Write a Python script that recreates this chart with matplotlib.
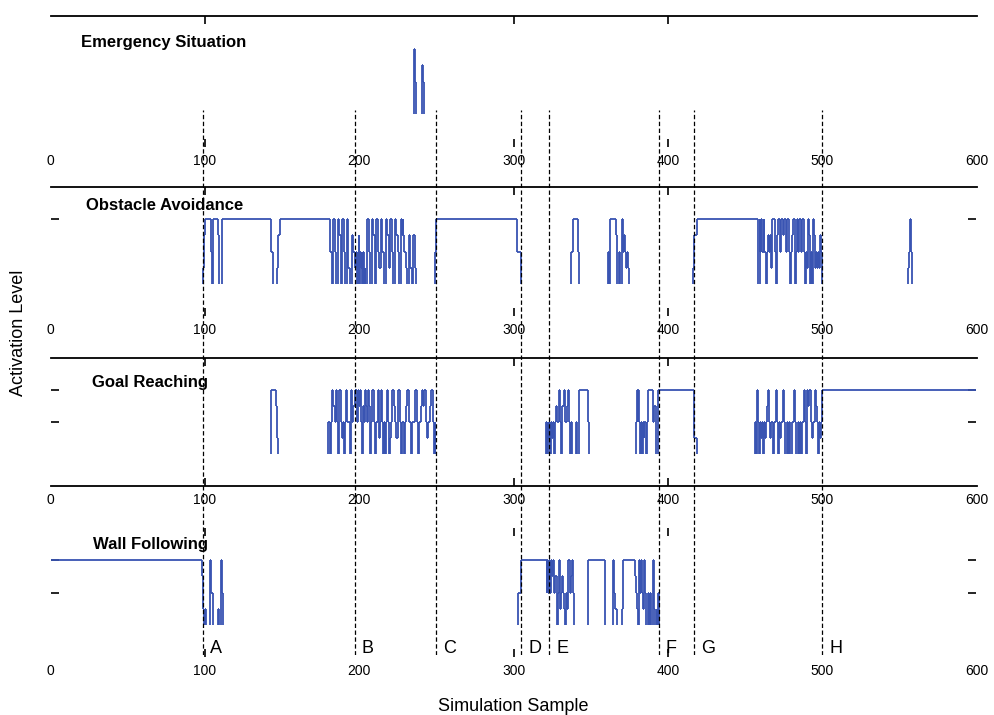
import numpy as np
import matplotlib
matplotlib.use("Agg")
import matplotlib.pyplot as plt
from matplotlib.transforms import blended_transform_factory

plt.rcParams['font.family'] = ['Liberation Sans', 'DejaVu Sans']

# ---------------- data ----------------
x_ticks = [0, 100, 200, 300, 400, 500, 600]
x_tick_labels = ["0", "100", "200", "300", "400", "500", "600"]
marked_ticks = [100, 300, 400]
event_x = [98.5, 197, 250, 305, 323, 394, 417, 500]
event_labels = ["A", "B", "C", "D", "E", "F", "G", "H"]
panel_titles = ["Emergency Situation", "Obstacle Avoidance", "Goal Reaching", "Wall Following"]
x_label = "Simulation Sample"
y_label = "Activation Level"

# (sample, activation level from that sample on)
emergency_steps = [(0, 0), (235.5, 1), (236.2, 0.5), (237.0, 0), (240.4, 0.25), (240.8, 0.75),
                   (241.3, 0.5), (241.9, 0)]

obstacle_steps = [
    (0, 0), (98.5, 0.25), (99.2, 0.75), (100, 1), (104, 0.5), (104.8, 0), (105.5, 1), (108.2, 0.75),
    (108.8, 0.5), (109.3, 0), (110.8, 1),
    (142.8, 0.5), (143.9, 0), (146.5, 0.25), (147.2, 0.75), (148.6, 1),
    (181, 0.5), (182, 0), (183, 1), (184, 0.5), (185, 0), (186, 1), (187, 0.75), (188, 0), (189, 1),
    (190, 0.5), (191, 0), (192, 1), (193, 0.25), (194, 0), (195, 0.75), (196, 0.5), (197, 0.25),
    (198, 0.5), (198.5, 0), (199, 0.5), (199.5, 0.75), (200, 0), (200.5, 0.5), (201, 0.25),
    (201.5, 0.5), (202, 0), (202.5, 0.5), (203, 0), (203.5, 0.25), (204, 0),
    (205, 1), (206, 0.5), (207, 0), (208, 1), (209, 0.75), (210, 0), (211, 1), (212, 0.5), (213, 0.25),
    (214, 1), (215, 0.5), (216, 0), (217, 1), (218, 0.75), (219, 0.25), (220, 1), (221, 0.5), (222, 0),
    (223, 1), (224, 0.75), (225, 0.5), (226, 0), (227, 1), (227.5, 0.75), (228, 1), (228.5, 0.75),
    (229, 0.5), (230, 0.25), (231, 0), (232, 0.75), (233, 0.25), (234, 0), (235, 0.75), (236, 0.25),
    (237, 0),
    (249, 0.5), (249.5, 1), (302, 0.5), (304.5, 0),
    (337.5, 0.5), (338.5, 1), (341.9, 0.5), (342.5, 0),
    (361.2, 0.5), (361.8, 0), (362.5, 1), (366.5, 0.75), (367.2, 0), (368.4, 0.5), (369, 0), (370, 1),
    (371, 0.5), (371.7, 0.75), (372.2, 0.5), (372.8, 0.25), (373.5, 0.5), (374.1, 0.25), (374.6, 0),
    (416.5, 0.25), (417.2, 0.75), (418.6, 1),
    (458.6, 0), (459.4, 1), (460, 0.5), (460.6, 1), (461.3, 0.5), (462, 1), (462.6, 0.5), (463.7, 0),
    (464.4, 0.5), (465, 0.75), (465.6, 0.5), (466.2, 0.75), (466.8, 0.25), (467.3, 1), (469.4, 0.5),
    (470, 0), (470.8, 0.75), (471.5, 1), (472.5, 0.5), (473.2, 1), (474.8, 0.75), (475.4, 1),
    (476.3, 0.5), (476.9, 1), (478.2, 0.5), (479.1, 0), (480, 0.5), (480.6, 0.75), (481.2, 1),
    (482.3, 0), (483, 0.5), (483.6, 1), (484.5, 0.5), (485.1, 1), (486, 0.5), (486.6, 0.75), (487.2, 1),
    (488.2, 0.5), (488.8, 0), (489.6, 0.5), (490.3, 0.25), (490.9, 1), (491.5, 0.75), (492, 0),
    (492.8, 0.5), (493.5, 0), (494.2, 1), (494.8, 0.75), (495.5, 0.25), (496.3, 0.5), (496.9, 0.25),
    (497.5, 0.5), (498.1, 0.25), (498.7, 0.75), (499.3, 0.5), (499.8, 0),
    (555.6, 0.25), (556.2, 0.5), (556.8, 1), (557.4, 0.5), (558, 0),
]

goal_steps = [
    (0, 0), (142.5, 0.5), (143, 1), (145.9, 0.75), (146.6, 0.25), (147.2, 0),
    (180, 0.5), (180.7, 0), (181.5, 0.5), (182, 1), (183, 0.75), (184.3, 0.5), (184.8, 1), (185.5, 0.5),
    (186, 0), (186.7, 1), (187.9, 0.5), (188.5, 0.25), (189.2, 0.5), (190.3, 0), (191, 0.5), (191.5, 1),
    (192, 0.5), (193.9, 0), (194.6, 1), (195.5, 0.5), (196.2, 0.75), (197, 1), (198.7, 0.5), (199.3, 1),
    (199.8, 0.75), (200.4, 1), (201.1, 0.5), (201.6, 0), (202.2, 0.75), (203, 0.5), (203.6, 1),
    (204.2, 0.75), (205, 0.5), (205.6, 1), (206.3, 0.75), (207.1, 0), (207.7, 0.5), (208.3, 1),
    (209.5, 0.5), (210.1, 0), (211, 0.5), (211.9, 1), (212.5, 0.25), (213.2, 0.5), (214.3, 1),
    (214.9, 0.5), (215.5, 0), (216.1, 0.5), (216.7, 0), (217.3, 0.5), (217.9, 1), (218.5, 0.5),
    (219.1, 0), (219.7, 0.25), (220.3, 0.5), (221.5, 1), (222.3, 0.75), (223, 0.5), (224, 0.25),
    (225.1, 1), (226.3, 0.5), (226.9, 0), (227.5, 0.5), (228.7, 0), (229.5, 0.5), (230.3, 0.75),
    (231.1, 1), (232, 0.5), (233.5, 0), (234.2, 0.5), (235.9, 1), (237.5, 0.5), (238.3, 0), (239, 0.5),
    (239.7, 0.75), (240.7, 1), (241.3, 0.75), (241.9, 1), (243.1, 0.5), (243.7, 0.25), (244.5, 0.5),
    (245.5, 0.75), (246.2, 1), (247.9, 0.5), (248.5, 0), (248.9, 0.5), (249.3, 0),
    (321, 0.5), (321.5, 0), (322, 0.5), (322.5, 0.25), (323, 0.5), (323.5, 0), (324, 0.5),
    (324.7, 0.25), (325.3, 0.5), (326, 0), (327, 0.5), (327.6, 0.75), (328.3, 0.5), (329.5, 1),
    (330.2, 0.5), (330.8, 0), (331.5, 0.75), (332.4, 1), (333, 0.75), (333.6, 0.5), (334.3, 0.75),
    (335.5, 1), (336.2, 0.5), (336.8, 0), (337.5, 0.5), (338, 0), (340.3, 0.5), (340.9, 0),
    (342.2, 1), (348.2, 0.5), (348.8, 0),
    (379.2, 0.5), (379.7, 1), (380.3, 0.5), (380.8, 1), (381.5, 0.5), (382.2, 0), (382.7, 0.5),
    (383.2, 0), (383.7, 0.5), (384.2, 0.25), (384.7, 0.5), (385.5, 0), (386.3, 0.5), (387.3, 1),
    (390.5, 0.5), (391.3, 0.75), (392, 0), (393.6, 1), (416.8, 0.25), (418.6, 0),
    (456.5, 0.5), (457.2, 0), (457.9, 1), (458.5, 0.5), (459.2, 0), (459.8, 0.5), (460.4, 0.25),
    (461, 0.5), (461.6, 0), (462.3, 0.5), (463, 0.25), (463.6, 0.5), (464.2, 0.75), (465.1, 1),
    (465.8, 0.5), (466.4, 0.25), (467, 0.5), (467.8, 0), (468.5, 0.5), (469.9, 1), (470.6, 0.5),
    (471.3, 0), (472, 0.5), (472.8, 0.25), (473.5, 0.5), (474.7, 1), (475.4, 0.5), (476.2, 0),
    (477, 0.5), (477.8, 0), (478.5, 0.5), (479.3, 0), (480.5, 0.5), (481.9, 1), (482.6, 0.5),
    (483.3, 0), (484, 0.5), (484.8, 0), (485.5, 0.5), (486.3, 0), (487.2, 0.5), (487.9, 1),
    (488.6, 0.5), (489.3, 0), (490.3, 1), (491, 0.75), (491.7, 1), (492.7, 0.5), (493.4, 0.25),
    (494.1, 0.5), (495.1, 1), (495.8, 0.75), (496.5, 0.5), (497.2, 0), (497.8, 0.5), (498.5, 0.25),
    (499.3, 0.5), (499.8, 1),
]

wall_steps = [
    (0, 1), (98.3, 0.75), (98.9, 0.25), (99.5, 0), (100, 0.25), (100.6, 0), (103, 1), (103.6, 0.5),
    (105, 0), (108.3, 0.25), (108.8, 0), (110.2, 1), (110.8, 0.5), (111.4, 0),
    (303, 0.5), (304.6, 1), (321.4, 0.5), (321.9, 1), (322.5, 0.5), (323, 1), (323.6, 0.5), (324.1, 1),
    (324.7, 0.75), (325.7, 1), (326.3, 0.5), (327, 0.75), (327.9, 0), (328.5, 0.5), (329.2, 1),
    (330, 0.25), (330.6, 0.5), (331.2, 0.75), (332.2, 0.5), (332.8, 0.25), (333.3, 0), (334, 0.5),
    (334.7, 0.25), (335.4, 1), (336.5, 0.5), (337, 0.75), (337.6, 1), (338.7, 0.5), (339.2, 0),
    (348, 0.5), (348.4, 1), (359, 0.5), (359.5, 0), (364.3, 0.5), (364.6, 1), (365.2, 0.5),
    (366, 0.25), (366.8, 0), (370.5, 0.25), (371.1, 1), (378.7, 0.75), (379.2, 0.5), (379.8, 0.25),
    (380.3, 0), (381.4, 1), (382, 0.5), (382.6, 1), (383.2, 0.5), (384, 0.25), (384.6, 1),
    (385.2, 0.5), (385.8, 0), (387.3, 0.5), (388, 0), (388.4, 0.5), (389, 0), (390.5, 1),
    (391.1, 0.25), (391.7, 0), (392.7, 0.25), (393.2, 0), (393.8, 0.5), (394.3, 0),
]

panel_steps = [emergency_steps, obstacle_steps, goal_steps, wall_steps]

# ---------------- styling / layout ----------------
LINE_COLOR = '#3853b2'
LW = 1.3
W, H = 994, 715
left_px, right_px = 50.7, 976.5
panel_px = [(16, 147), (187, 316), (358, 486), (528, 657)]
title_pos = [(0.033, 0.766), (0.038, 0.822), (0.045, 0.771), (0.046, 0.837)]
visible_spines = [{'top'}, {'top'}, {'top', 'bottom'}, set()]
y_ticks = [[], [1], [0.5, 1], [0.5, 1]]


def px_rect(top, bottom):
    return [left_px / W, 1 - bottom / H, (right_px - left_px) / W, (bottom - top) / H]


def draw_steps(ax, steps, x_end=600):
    xs = np.array([s[0] for s in steps], dtype=float)
    vs = np.array([s[1] for s in steps], dtype=float)
    x_next = np.append(xs[1:], x_end)
    on = vs > 0
    ax.hlines(vs[on], xs[on], x_next[on], colors=LINE_COLOR, lw=LW)
    ax.vlines(xs[1:], np.minimum(vs[:-1], vs[1:]), np.maximum(vs[:-1], vs[1:]),
              colors=LINE_COLOR, lw=LW)


fig = plt.figure(figsize=(W / 100, H / 100), dpi=100)

for i, (steps, (top, bot)) in enumerate(zip(panel_steps, panel_px)):
    ax = fig.add_axes(px_rect(top, bot))
    ax.patch.set_visible(False)
    draw_steps(ax, steps)
    ax.set_xlim(0, 600)
    ax.set_ylim(-0.5, 1.5)
    ax.xaxis.remove_overlapping_locs = False
    ax.set_xticks(x_ticks)
    ax.set_xticklabels(x_tick_labels)
    ax.set_xticks(marked_ticks, minor=True)
    ax.tick_params(axis='x', which='major', length=0, pad=5, labelsize=10)
    ax.tick_params(axis='x', which='minor', direction='in', length=6, width=1.2,
                   top=True, bottom=True)
    ax.set_yticks(y_ticks[i])
    ax.tick_params(axis='y', direction='in', length=6, width=1.2, left=True, right=True,
                   labelleft=False, labelright=False)
    for name, sp in ax.spines.items():
        sp.set_visible(name in visible_spines[i])
        sp.set_linewidth(1.3)
    tx, ty = title_pos[i]
    ax.text(tx, ty, panel_titles[i], transform=ax.transAxes, fontsize=12,
            fontweight='bold', ha='left', va='baseline')

# overlay with the event markers
ov = fig.add_axes(px_rect(110, 655))
ov.set_xlim(0, 600)
ov.set_ylim(0, 1)
ov.axis('off')
ov.patch.set_visible(False)
for ex, lab in zip(event_x, event_labels):
    ov.axvline(ex, color='black', lw=0.9, ls=(0, (3.5, 2)))
    ov.text(ex + 4.5, 1 - 652.7 / H, lab, fontsize=13, ha='left', va='baseline',
            transform=blended_transform_factory(ov.transData, fig.transFigure))

fig.text(513.5 / W, 1 - 711 / H, x_label, fontsize=13, ha='center', va='baseline')
fig.text(19 / W, 1 - 333 / H, y_label, fontsize=13, ha='center', va='center', rotation=90)

fig.savefig('out.png', dpi=100)
